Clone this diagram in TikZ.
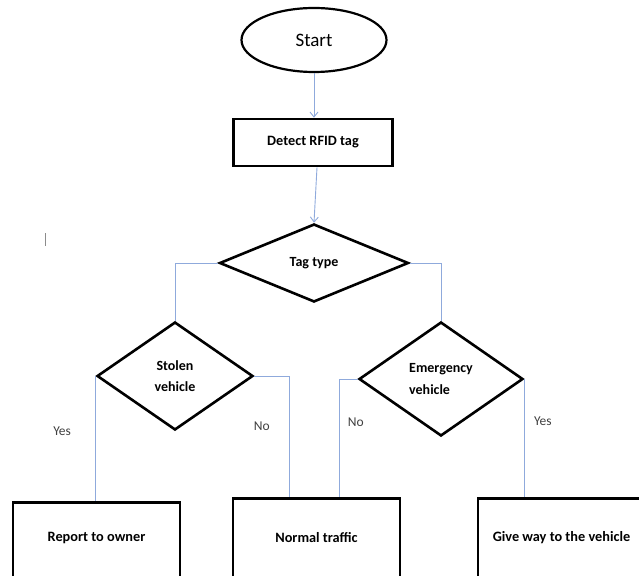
\documentclass[tikz,border=0pt]{standalone}
\usepackage{fontspec}
\setmainfont{Carlito}
\usepackage{tikz}
\usetikzlibrary{shapes.geometric,arrows.meta}
\definecolor{linkblue}{RGB}{143,170,220}

\begin{document}
\begin{tikzpicture}[x=1pt, y=-1pt,
    box/.style={draw, line width=2.6pt, rectangle, inner sep=0pt,
        font=\bfseries\fontsize{14.3}{16}\selectfont},
    decision/.style={draw, line width=2.6pt, diamond, inner sep=0pt,
        font=\bfseries\fontsize{14}{21.5}\selectfont},
    link/.style={draw=linkblue, line width=0.9pt},
    tip/.style={-{Straight Barb[length=5pt,width=8pt]}},
    answer/.style={font=\fontsize{13.5}{16}\selectfont, text=black!75}]
    \clip (0,0) rectangle (639,575);
    % start and first step
    \node[draw, ellipse, line width=2.2pt, minimum width=145pt, minimum height=64pt,
        font=\fontsize{19}{22}\selectfont] (start) at (314,40) {Start};
    \node[box, minimum width=159pt, minimum height=47pt] (detect) at (313,142.5) {Detect RFID tag};
    % decisions
    \node[decision, minimum width=189pt, minimum height=78pt] (tag) at (314,263) {Tag type};
    \node[decision, align=center, minimum width=156pt, minimum height=108pt] (stolen) at (175,376) {Stolen\\vehicle};
    \node[decision, align=left, minimum width=164pt, minimum height=114pt] (emerg) at (441,379) {Emergency\\vehicle};
    % outcomes (cut off by the page edge)
    \node[box, anchor=north, minimum width=167pt, text height=39pt, text depth=45pt] (report) at (96.5,501) {Report to owner};
    \node[box, anchor=north, minimum width=167pt, text height=44pt, text depth=45pt] (normal) at (316.5,497) {Normal traffic};
    \node[box, anchor=north, minimum width=167pt, text height=43pt, text depth=45pt] (give) at (561.5,497) {Give way to the vehicle};
    % connectors
    \draw[link, tip] (start.south) -- (start.south |- detect.north);
    \draw[link, tip] ([xshift=4pt]detect.south) -- (tag.north);
    \draw[link] (tag.west) -| (stolen.north);
    \draw[link] (tag.east) -| (emerg.north);
    \draw[link] (stolen.west) -- (stolen.west |- report.north)
        node[answer, pos=0.44, left=21pt] (yes1) {Yes};
    \draw[link] (stolen.east) -| ([xshift=-27pt]normal.north)
        node[answer, pos=0.707, left=16pt] (no1) {No};
    \draw[link] (emerg.west) -| ([xshift=23pt]normal.north)
        node[answer, pos=0.682, right=4.5pt] (no2) {No};
    \draw[link] (emerg.east) -- (emerg.east |- give.north)
        node[answer, pos=0.356, right=6pt] (yes2) {Yes};
    % stray cursor mark
    \draw[black!45, line width=0.8pt] (45,233) -- (45,246);
\end{tikzpicture}
\end{document}
